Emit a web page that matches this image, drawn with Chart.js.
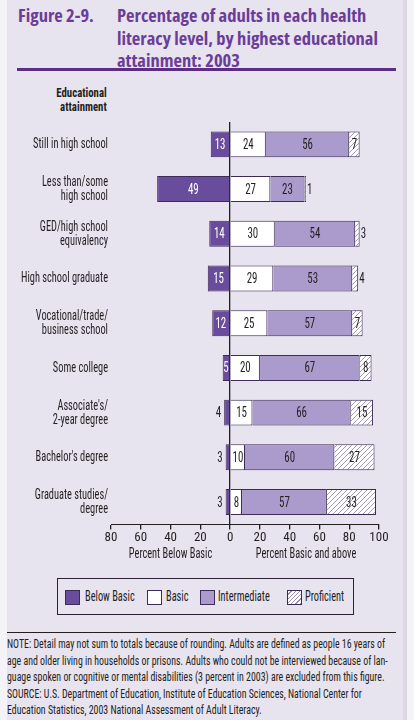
<!DOCTYPE html>
<html>
<head>
<meta charset="utf-8">
<script src="https://cdn.jsdelivr.net/npm/chart.js@4.4.1/dist/chart.umd.min.js"></script>
<style>
  body { margin: 0; background: #f4f3f8; width: 414px; height: 720px; overflow: hidden; position: relative;
         font-family: "Roboto Condensed", sans-serif; color: #231f20; }
  #panel { position: absolute; left: 7px; top: 0; width: 396px; height: 720px; background: #e7e3ef; }
  #strip { position: absolute; left: 403px; top: 0; width: 4px; height: 720px; background: #dcd8e4; }
  .title { position: absolute; top: 4px; font-family: "Open Sans", sans-serif; font-weight: 700; font-stretch: 87.5%;
           font-size: 18px; line-height: 22.5px; color: #6a3d96; white-space: nowrap; }
  #fig { left: 18px; }
  #ttl { left: 117px; }
  #rule { position: absolute; left: 17px; top: 68px; width: 379px; height: 3px; background: #5c2d83; }
  #edu { position: absolute; right: 307px; top: 86px; font-weight: bold; font-size: 13px; line-height: 13.5px; text-align: right;
         transform: scaleX(0.83); transform-origin: 100% 0; }
  #chart_box { position: absolute; left: 0; top: 112px; width: 414px; height: 458px; }
  #legend { position: absolute; left: 57px; top: 578px; width: 295px; height: 35px; border: 1px solid #2b2035; }
  .sw { position: absolute; top: 11px; width: 15px; height: 15px; border: 1px solid #3b2b55; box-sizing: border-box; }
  .lt { position: absolute; top: 9px; font-size: 14px; line-height: 17px; white-space: nowrap;
        transform: scaleX(0.74); transform-origin: 0 0; }
  #sep { position: absolute; left: 7px; top: 632px; width: 389px; height: 1px; background: #231f20; }
  #note { position: absolute; left: 7px; top: 636px; font-size: 12.5px; line-height: 16.6px; white-space: nowrap; transform-origin: 0 0; }
</style>
</head>
<body>
<div id="panel"></div>
<div id="strip"></div>
<div class="title" id="fig">Figure 2-9.</div>
<div class="title" id="ttl">Percentage of adults in each health<br><span id="ttl2">literacy level, by highest educational</span><br>attainment: 2003</div>
<div id="rule"></div>
<div id="edu">Educational<br>attainment</div>
<div id="chart_box"><canvas id="literacy_chart"></canvas></div>
<div id="legend">
  <div class="sw" style="left:7px;background:#6a4c9c"></div><div class="lt" style="left:27px">Below Basic</div>
  <div class="sw" style="left:89px;background:#fff"></div><div class="lt" style="left:108px">Basic</div>
  <div class="sw" style="left:142px;background:#ab9bcc"></div><div class="lt" style="left:160px">Intermediate</div>
  <div class="sw" style="left:229px;background:repeating-linear-gradient(135deg,#fff 0 2px,#9a8fb0 2px 3px)"></div><div class="lt" style="left:247px">Proficient</div>
</div>
<div id="sep"></div>
<div id="note"><span id="note1">NOTE: Detail may not sum to totals because of rounding. Adults are defined as people 16 years of</span><br>age and older living in households or prisons. Adults who could not be interviewed because of lan-<br>guage spoken or cognitive or mental disabilities (3 percent in 2003) are excluded from this figure.<br>SOURCE: U.S. Department of Education, Institute of Education Sciences, National Center for<br>Education Statistics, 2003 National Assessment of Adult Literacy.</div>

<script>
// categories and values (percent)
var categories = [
  "Still in high school",
  ["Less than/some", "high school"],
  ["GED/high school", "equivalency"],
  "High school graduate",
  ["Vocational/trade/", "business school"],
  "Some college",
  ["Associate's/", "2-year degree"],
  "Bachelor's degree",
  ["Graduate studies/", "degree"]
];
var below_basic = [13, 49, 14, 15, 12, 5, 4, 3, 3];
var basic = [24, 27, 30, 29, 25, 20, 15, 10, 8];
var intermediate = [56, 23, 54, 53, 57, 67, 66, 60, 57];
var proficient = [7, 1, 3, 4, 7, 8, 15, 27, 33];
var x_ticks = [-80, -60, -40, -20, 0, 20, 40, 60, 80, 100];

var font_name = '"Roboto Condensed", sans-serif';
var dark = "#3b2b55";
var text_col = "#231f20";

// squeeze title and note text to the widths in the figure
var t2 = document.getElementById("ttl2").getBoundingClientRect().width;
var fs = 18 * 261 / t2;
document.getElementById("fig").style.fontSize = fs + "px";
document.getElementById("ttl").style.fontSize = fs + "px";
var n1 = document.getElementById("note1").getBoundingClientRect().width;
document.getElementById("note").style.transform = "scaleX(" + (378 / n1) + ")";

// text drawn narrower than the font (the figure uses a condensed face)
function squeezed(ctx, txt, x, y, sx) {
  ctx.save();
  ctx.translate(x, y);
  ctx.scale(sx, 1);
  ctx.fillText(txt, 0, 0);
  ctx.restore();
}

// hatch for proficient
function make_hatch() {
  var c = document.createElement("canvas");
  c.width = 5; c.height = 5;
  var g = c.getContext("2d");
  g.fillStyle = "#fff";
  g.fillRect(0, 0, 5, 5);
  g.strokeStyle = "#9a8fb0";
  g.lineWidth = 0.9;
  g.beginPath();
  g.moveTo(0, 5); g.lineTo(5, 0);
  g.moveTo(-1, 1); g.lineTo(1, -1);
  g.moveTo(4, 6); g.lineTo(6, 4);
  g.stroke();
  return g.createPattern(c, "repeat");
}

// value labels inside / beside bars
var bar_labels = {
  id: "bar_labels",
  afterDatasetsDraw: function(chart) {
    var ctx = chart.ctx;
    ctx.save();
    ctx.font = "14px " + font_name;
    ctx.textBaseline = "middle";
    chart.data.datasets.forEach(function(ds, di) {
      var meta = chart.getDatasetMeta(di);
      meta.data.forEach(function(bar, i) {
        var v = Math.abs(ds.data[i]);
        var left = Math.min(bar.x, bar.base), right = Math.max(bar.x, bar.base);
        var y = bar.y + 1;
        if (di == 0) {
          if (v >= 5) {
            ctx.fillStyle = "#fff"; ctx.textAlign = "center";
            squeezed(ctx, v, (left + right) / 2, y, 0.78);
          } else {
            ctx.fillStyle = text_col; ctx.textAlign = "right";
            squeezed(ctx, v, left - 3, y, 0.78);
          }
        } else if (di == 3 && v < 7) {
          ctx.fillStyle = text_col; ctx.textAlign = "left";
          squeezed(ctx, v, right + 1, y, 0.78);
        } else {
          ctx.fillStyle = text_col; ctx.textAlign = "center";
          squeezed(ctx, v, (left + right) / 2, y, 0.78);
        }
      });
    });
    ctx.restore();
  }
};

// category names and the two x axis titles
var axis_text = {
  id: "axis_text",
  afterDraw: function(chart) {
    var ctx = chart.ctx;
    var xs = chart.scales.x, ys = chart.scales.y;
    ctx.save();
    ctx.fillStyle = text_col;
    ctx.textBaseline = "middle";
    ctx.font = "14px " + font_name;
    ctx.textAlign = "right";
    categories.forEach(function(c, i) {
      var lines = Array.isArray(c) ? c : [c];
      var yc = ys.getPixelForValue(i) - (lines.length - 1) * 7 + 0.5;
      lines.forEach(function(l, j) {
        squeezed(ctx, l, 108, yc + j * 14, 0.74);
      });
    });
    ctx.textAlign = "center";
    var y = xs.top + 30;
    squeezed(ctx, "Percent Below Basic", xs.getPixelForValue(-40), y, 0.74);
    squeezed(ctx, "Percent Basic and above", xs.getPixelForValue(51), y, 0.74);
    ctx.restore();
  }
};

new Chart(document.getElementById("literacy_chart"), {
  type: "bar",
  data: {
    labels: categories,
    datasets: [{
        label: "Below Basic",
        data: below_basic.map(function(v) { return -v; }),
        backgroundColor: "#6a4c9c",
        borderColor: dark, borderWidth: 1
      }, {
        label: "Basic",
        data: basic,
        backgroundColor: "#ffffff",
        borderColor: dark, borderWidth: 1
      }, {
        label: "Intermediate",
        data: intermediate,
        backgroundColor: "#ab9bcc",
        borderColor: dark, borderWidth: 1
      }, {
        label: "Proficient",
        data: proficient,
        backgroundColor: make_hatch(),
        borderColor: dark, borderWidth: 1
      }
    ]
  },
  options: {
    indexAxis: "y",
    responsive: true,
    maintainAspectRatio: false,
    animation: false,
    barPercentage: 0.58,
    categoryPercentage: 1,
    layout: { padding: { top: 10, right: 35, left: 0, bottom: 0 } },
    plugins: { legend: { display: false }, tooltip: { enabled: false } },
    scales: {
      x: {
        stacked: true,
        min: -80, max: 100,
        afterBuildTicks: function(scale) {
          scale.ticks = x_ticks.map(function(v) { return { value: v }; });
        },
        afterFit: function(scale) { scale.height = 45.6; },
        border: { display: true, color: text_col, width: 1 },
        grid: {
          color: function(c) { return c.tick && c.tick.value == 0 ? text_col : "rgba(0,0,0,0)"; },
          lineWidth: 1.3,
          tickColor: text_col,
          tickLength: 5
        },
        ticks: {
          padding: 1,
          color: text_col,
          font: { family: font_name, size: 13 },
          callback: function(v) { return Math.abs(v); }
        }
      },
      y: {
        stacked: true,
        afterFit: function(scale) {
          scale.width = 111;
          scale.paddingTop = 0;
          scale.paddingBottom = 0;
        },
        border: { display: false },
        grid: { display: false },
        ticks: { display: false }
      }
    }
  },
  plugins: [bar_labels, axis_text]
});
</script>
</body>
</html>
